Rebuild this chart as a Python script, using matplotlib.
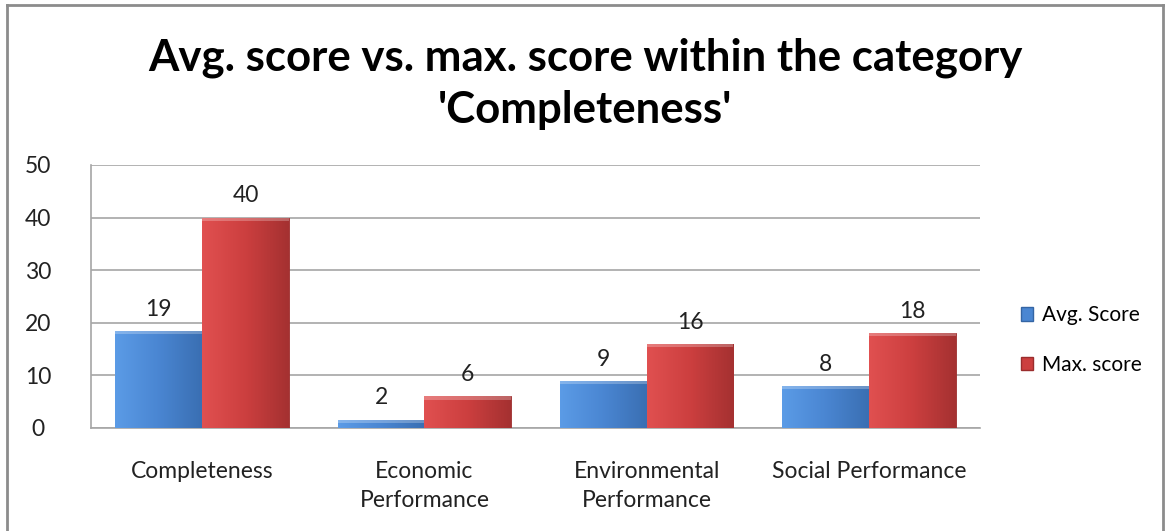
import numpy as np
import matplotlib
matplotlib.use('Agg')
import matplotlib.pyplot as plt
from matplotlib.patches import Patch
from matplotlib.colors import LinearSegmentedColormap

# chart data
categories = ['Completeness', 'Economic\nPerformance', 'Environmental\nPerformance', 'Social Performance']
avg_score = [18.5, 1.6, 9.0, 8.0]
max_score = [40, 6, 16, 18]
avg_labels = ['19', '2', '9', '8']
max_labels = ['40', '6', '16', '18']
yticks = [0, 10, 20, 30, 40, 50]

plt.rcParams['font.family'] = ['Lato', 'DejaVu Sans']

fig = plt.figure(figsize=(11.7, 5.31), dpi=100)
ax = fig.add_axes([91 / 1170, 1 - 428 / 531, 889 / 1170, 263 / 531])

x = np.arange(len(categories))
w = 0.39

blue_cmap = LinearSegmentedColormap.from_list('b', ['#5b9be6', '#4a86d2', '#3a6fb3'])
red_cmap = LinearSegmentedColormap.from_list('r', ['#e05050', '#cc3f3f', '#a53131'])

bars_avg = ax.bar(x - w / 2, avg_score, w, color='#4a86d2', edgecolor='#3465a4', linewidth=0.6, zorder=3)
bars_max = ax.bar(x + w / 2, max_score, w, color='#cc3f3f', edgecolor='#9a2d2d', linewidth=0.6, zorder=3)

# horizontal gradient inside each bar, like the bevelled office style
grad = np.linspace(0, 1, 64).reshape(1, -1)
for bars, cmap in [(bars_avg, blue_cmap), (bars_max, red_cmap)]:
    for b in bars:
        x0, y0 = b.get_x(), b.get_y()
        im = ax.imshow(grad, cmap=cmap, aspect='auto', zorder=3.5,
                       extent=[x0, x0 + b.get_width(), y0, y0 + b.get_height()])
        im.set_clip_path(b)
        # light strip on top
        ax.fill_between([x0, x0 + b.get_width()], b.get_height() - 0.6, b.get_height(),
                        color='white', alpha=0.25, zorder=4, linewidth=0)

for bars, labels in [(bars_avg, avg_labels), (bars_max, max_labels)]:
    for b, lab in zip(bars, labels):
        ax.annotate(lab, (b.get_x() + b.get_width() / 2, b.get_height()),
                    xytext=(0, 8), textcoords='offset points', ha='center', va='bottom',
                    fontsize=16.5, color='#222222')

ax.set_xlim(-0.5, len(categories) - 0.5)
ax.set_ylim(0, 50)
ax.set_yticks(yticks)
ax.set_xticks(x)
ax.set_xticklabels(categories, fontsize=16.5, color='#222222', linespacing=1.45)
ax.tick_params(axis='y', labelsize=16.5, length=0, pad=38, colors='#222222')
ax.tick_params(axis='x', length=0, pad=24)
for lab in ax.get_yticklabels():
    lab.set_horizontalalignment('center')
ax.yaxis.grid(True, color='#a6a6a6', linewidth=1.2, zorder=0)
ax.set_axisbelow(True)
for s in ['top', 'right']:
    ax.spines[s].set_visible(False)
for s in ['left', 'bottom']:
    ax.spines[s].set_color('#a6a6a6')
    ax.spines[s].set_linewidth(1.2)

fig.text(0.5, 1 - 84 / 531, "Avg. score vs. max. score within the category\n'Completeness'",
         ha='center', va='center', fontsize=31.5, fontweight='bold', linespacing=1.35)

handles = [Patch(facecolor='#4a86d2', edgecolor='#3465a4', label='Avg. Score'),
           Patch(facecolor='#cc3f3f', edgecolor='#9a2d2d', label='Max. score')]
fig.legend(handles=handles, loc='center left', bbox_to_anchor=(1002 / 1170, 1 - 340 / 531),
           frameon=False, fontsize=15, handlelength=0.6, handleheight=0.6,
           handletextpad=0.4, labelspacing=1.4)

# outer chart border
for xs, ys in [([7 / 1170, 7 / 1170], [0, 1 - 5 / 531]),
               ([7 / 1170, 1163 / 1170], [1 - 5 / 531, 1 - 5 / 531]),
               ([1163 / 1170, 1163 / 1170], [0, 1 - 5 / 531])]:
    fig.add_artist(plt.Line2D(xs, ys, color='#8c8c8c', linewidth=2))

fig.savefig('out.png', dpi=100)
